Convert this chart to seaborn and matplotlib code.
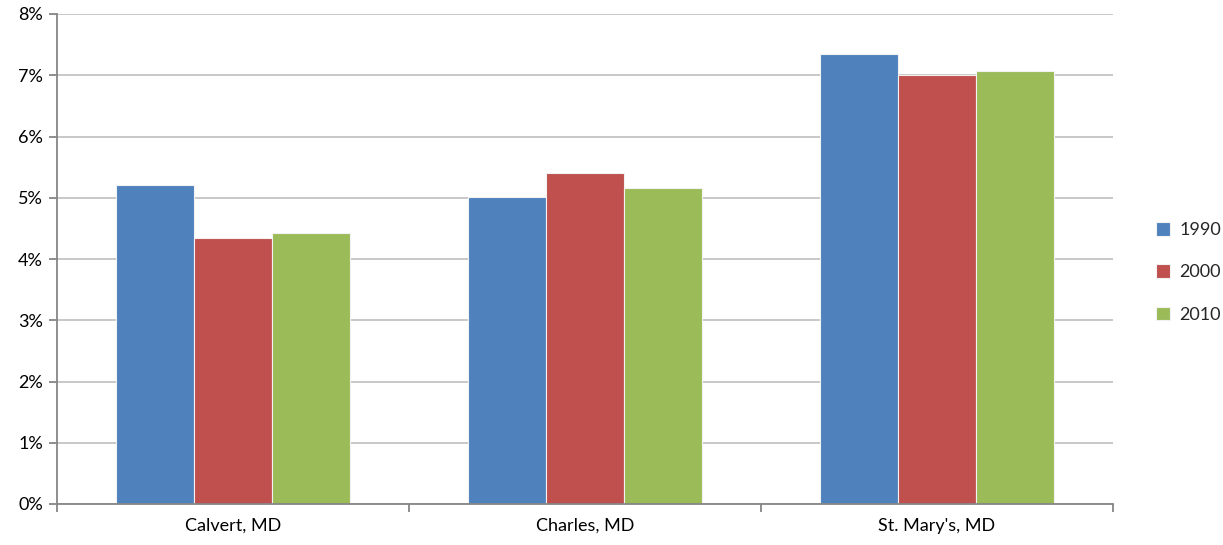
import matplotlib
matplotlib.use("Agg")
import matplotlib.pyplot as plt
import seaborn as sns
import pandas as pd
from matplotlib.ticker import FuncFormatter, FixedLocator

counties = ["Calvert, MD", "Charles, MD", "St. Mary's, MD"]
years = ["1990", "2000", "2010"]
v1990 = [5.21, 5.01, 7.35]
v2000 = [4.34, 5.40, 7.00]
v2010 = [4.42, 5.16, 7.07]
colors = ["#4F81BD", "#C0504D", "#9BBB59"]

rows = []
for y, vals in zip(years, [v1990, v2000, v2010]):
    for c, v in zip(counties, vals):
        rows.append({"county": c, "year": y, "value": v})
df = pd.DataFrame(rows)

sns.set_theme(style="white")
plt.rcParams['font.family'] = ['Lato', 'DejaVu Sans']

fig = plt.figure(figsize=(12.23, 5.45), dpi=100)
ax = fig.add_axes([57/1223, 1-504/545, (1113-57)/1223, (504-14)/545])

sns.barplot(data=df, x="county", y="value", hue="year", order=counties,
            hue_order=years, palette=colors, width=0.667, gap=0,
            edgecolor="#F2F2F2", linewidth=0.8, saturation=1, ax=ax, errorbar=None)

ax.set_ylim(0, 8)
ax.set_xlim(-0.5, 2.5)
ax.yaxis.set_major_locator(FixedLocator(range(0, 9)))
ax.yaxis.set_major_formatter(FuncFormatter(lambda v, p: f"{int(v)}%"))
ax.grid(axis="y", color="#C4C4C4", linewidth=1.3)
ax.set_axisbelow(True)
ax.set_xlabel("")
ax.set_ylabel("")

for s in ["top", "right"]:
    ax.spines[s].set_visible(False)
for s in ["left", "bottom"]:
    ax.spines[s].set_color("#868686")
    ax.spines[s].set_linewidth(1.3)

ax.tick_params(axis="y", which="major", length=6, width=1.3, color="#868686",
               labelsize=13, pad=4, labelcolor="black", left=True)
ax.tick_params(axis="x", which="major", length=0, labelsize=13, pad=10, labelcolor="black")
ax.xaxis.set_minor_locator(FixedLocator([-0.5, 0.5, 1.5, 2.5]))
ax.tick_params(axis="x", which="minor", length=6, width=1.3, color="#868686", bottom=True)

leg = ax.legend(loc="center left", bbox_to_anchor=(1.025, 0.473), frameon=False,
                fontsize=13, handlelength=0.8, handleheight=0.8,
                labelspacing=1.45, handletextpad=0.5)

fig.savefig("out.png", dpi=100)
